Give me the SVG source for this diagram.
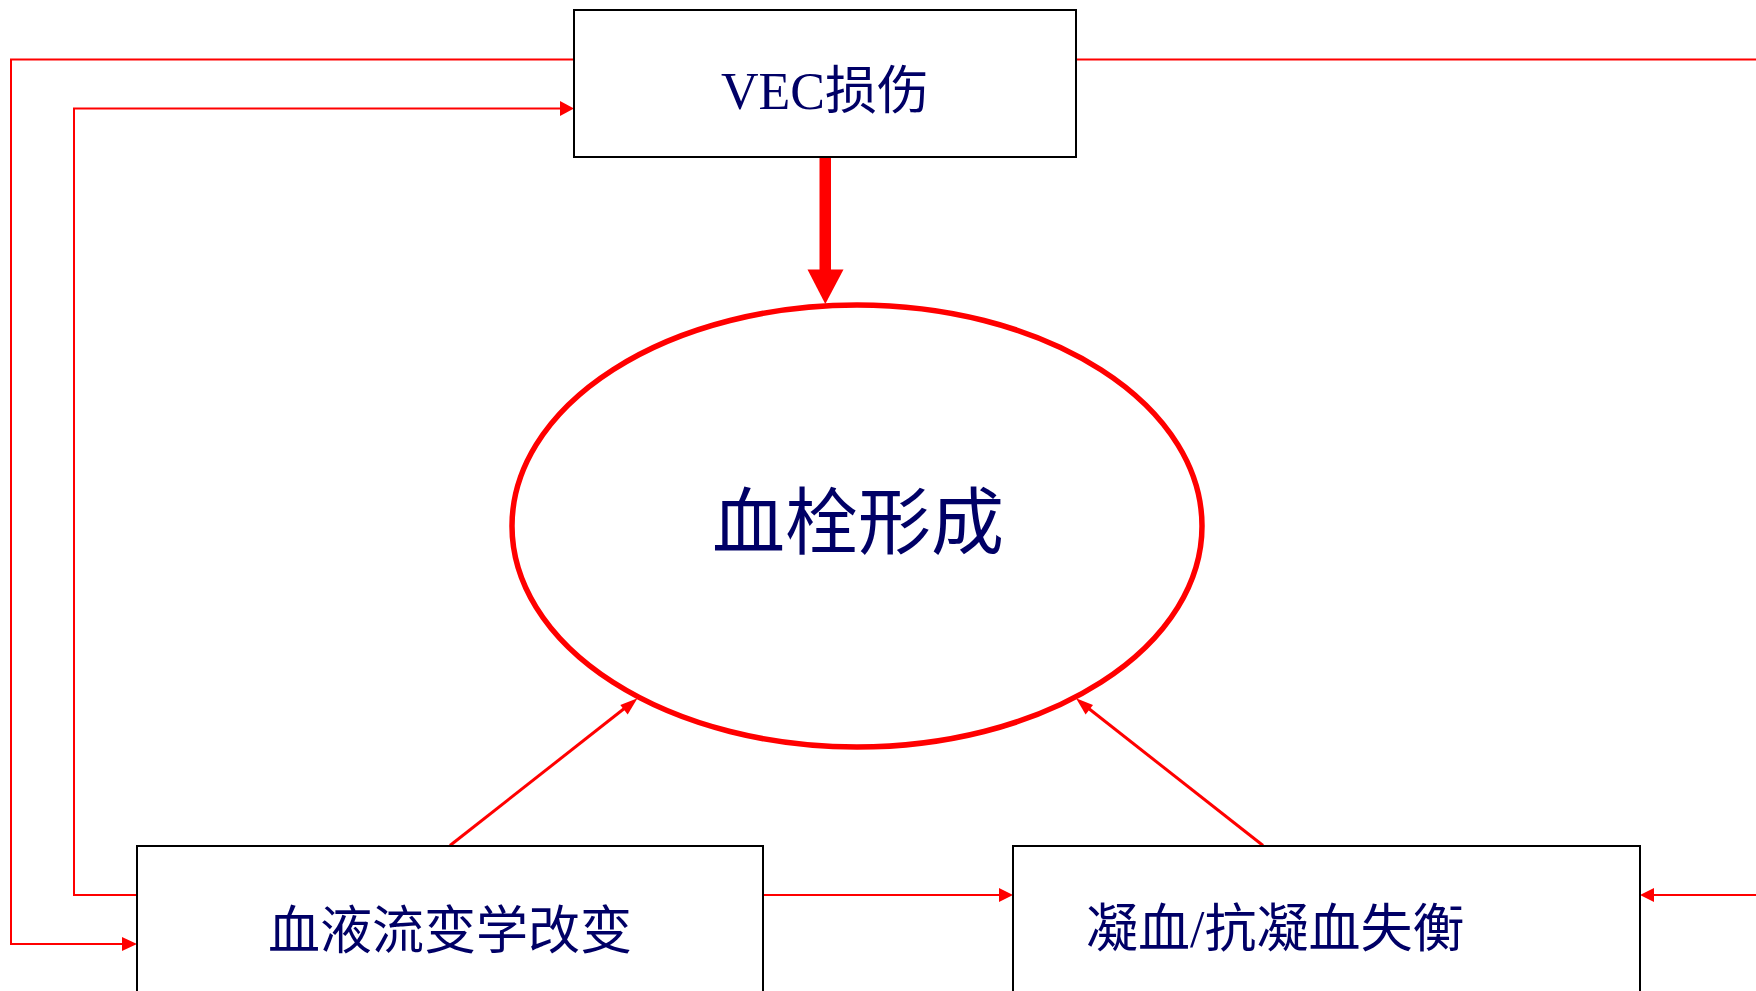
<svg xmlns="http://www.w3.org/2000/svg" width="1756" height="991" viewBox="0 0 1756 991">
<style>
.box{fill:#fff;stroke:#000;stroke-width:2}
.lbl{font-family:"Liberation Serif","Noto Sans CJK SC",serif;fill:#000066}
.ln{fill:none;stroke:#ff0000;stroke-width:2}
.dg{fill:none;stroke:#ff0000;stroke-width:3}
</style>
<g id="connectors">
<polyline class="ln" points="574,59.5 11,59.5 11,944 122,944"/>
<path d="M122,937 L137,944 L122,951 z" fill="#ff0000"/>
<polyline class="ln" points="137,895 74,895 74,108.5 560,108.5"/>
<path d="M560,101 L574,108.5 L560,116 z" fill="#ff0000"/>
<line class="ln" x1="1076" y1="59.5" x2="1756" y2="59.5"/>
<line class="ln" x1="763" y1="895" x2="999" y2="895"/>
<path d="M999,888 L1013,895 L999,902 z" fill="#ff0000"/>
<line class="ln" x1="1756" y1="895" x2="1654" y2="895"/>
<path d="M1654,888 L1640,895 L1654,902 z" fill="#ff0000"/>
<line class="dg" x1="450" y1="845.5" x2="630" y2="704"/>
<path d="M637.5,698.3 L627.7,714.4 L620.3,705 z" fill="#ff0000"/>
<line class="dg" x1="1263" y1="845.5" x2="1083" y2="704"/>
<path d="M1076,698.3 L1093,705 L1085.6,714.4 z" fill="#ff0000"/>
<rect x="819.5" y="157" width="11.5" height="114" fill="#ff0000"/>
<path d="M807.5,269.5 L843.5,269.5 L825.3,304 z" fill="#ff0000"/>
</g>
<g id="vec">
<rect class="box" x="574" y="10" width="502" height="147"/>
<text class="lbl" x="825" y="109" font-size="52" text-anchor="middle">VEC损伤</text>
</g>
<g id="thrombus">
<ellipse cx="857" cy="526" rx="345" ry="221" fill="none" stroke="#ff0000" stroke-width="5.5"/>
<text class="lbl" x="858" y="548" font-size="73" text-anchor="middle">血栓形成</text>
</g>
<g id="hemorheology">
<rect class="box" x="137" y="846" width="626" height="160"/>
<text class="lbl" x="450" y="949" font-size="52" text-anchor="middle">血液流变学改变</text>
</g>
<g id="coagulation">
<rect class="box" x="1013" y="846" width="627" height="160"/>
<text class="lbl" x="1086" y="947" font-size="52">凝血/抗凝血失衡</text>
</g>
</svg>
